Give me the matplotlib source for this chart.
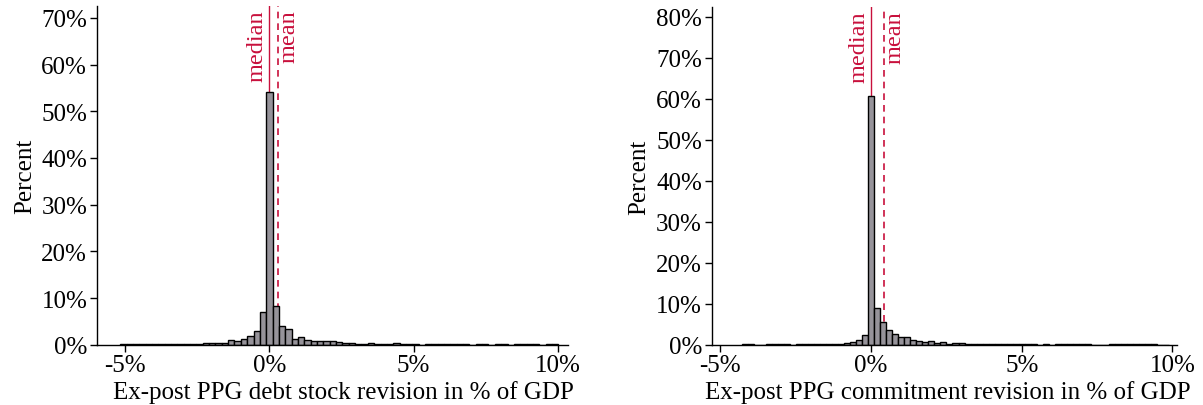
import matplotlib
matplotlib.use("Agg")
import matplotlib.pyplot as plt
import matplotlib.ticker as mticker
import numpy as np

# Left: debt stock revision, bins of 0.22 pp starting at -5.165
DEBT_START = -5.165
DEBT_WIDTH = 0.22
debt_pct = [
    0.10, 0.08, 0.10, 0.08, 0.10, 0.10, 0.10, 0.12, 0.10, 0.12,
    0.15, 0.25, 0.15, 0.30, 0.30, 0.30, 0.40, 1.00, 0.70, 1.30,
    1.90, 3.00, 6.90, 54.10, 8.30, 4.00, 3.30, 1.30, 1.60, 1.10,
    0.80, 0.80, 0.70, 0.85, 0.60, 0.35, 0.35, 0.20, 0.20, 0.35,
    0.15, 0.15, 0.20, 0.35, 0.15, 0.15, 0.12, 0.00, 0.12, 0.10,
    0.12, 0.10, 0.12, 0.10, 0.10, 0.00, 0.12, 0.10, 0.00, 0.12,
    0.10, 0.00, 0.10, 0.10, 0.10, 0.10, 0.00, 0.10, 0.10,
]
debt_median = 0.0
debt_mean = 0.31

# Right: commitment revision, bins of 0.2 pp starting at -4.3
COMM_START = -4.3
COMM_WIDTH = 0.2
comm_pct = [
    0.10, 0.08, 0.00, 0.00, 0.10, 0.10, 0.10, 0.10, 0.00, 0.12,
    0.10, 0.12, 0.10, 0.10, 0.12, 0.12, 0.18, 0.35, 0.75, 1.05,
    2.25, 60.70, 8.90, 5.60, 3.70, 2.60, 1.85, 1.85, 1.10, 0.90,
    0.65, 1.00, 0.45, 0.55, 0.25, 0.40, 0.40, 0.25, 0.20, 0.15,
    0.15, 0.20, 0.12, 0.12, 0.15, 0.12, 0.10, 0.10, 0.08, 0.00,
    0.10, 0.00, 0.10, 0.10, 0.08, 0.10, 0.10, 0.10, 0.00, 0.00,
    0.00, 0.08, 0.10, 0.10, 0.08, 0.10, 0.10, 0.10, 0.10, 0.00,
    0.00,
]
comm_median = 0.0
comm_mean = 0.42

BAR = "#96939a"
RED = "#c8103c"
FS = 18

plt.rcParams.update({
    "font.family": ["Liberation Serif", "DejaVu Serif"],
    "font.size": FS,
    "axes.spines.top": False,
    "axes.spines.right": False,
    "axes.linewidth": 1.0,
    "xtick.major.size": 5,
    "ytick.major.size": 5,
    "xtick.major.width": 1.0,
    "ytick.major.width": 1.0,
})

fig = plt.figure(figsize=(12.03, 4.06), dpi=100)
ax1 = fig.add_axes([0.0806, 0.1485, 0.3913, 0.835])
ax2 = fig.add_axes([0.5916, 0.1485, 0.3868, 0.831])


def panel(ax, pct, start, width, med, mean, xlim, ylim, yticks, xlabel, xlab_x):
    edges = start + width * np.arange(len(pct))
    ax.bar(edges, pct, width=width, align="edge", color=BAR,
           edgecolor="black", linewidth=1.0, zorder=2)
    ax.axvline(med, color=RED, linewidth=1.0, zorder=1)
    ax.axvline(mean, color=RED, linewidth=1.2, linestyle=(0, (4, 3)), zorder=1)
    top = ylim - 0.8
    ax.text(med - 0.06, top, "median", rotation=90, color=RED,
            ha="right", va="top", fontsize=FS - 0.5)
    ax.text(mean + 0.02, top, "mean", rotation=90, color=RED,
            ha="left", va="top", fontsize=FS - 0.5)
    ax.set_xlim(*xlim)
    ax.set_ylim(0, ylim)
    ax.set_xticks([-5, 0, 5, 10])
    ax.xaxis.set_major_formatter(mticker.FuncFormatter(lambda v, p: f"{v:.0f}%"))
    ax.set_yticks(yticks)
    ax.yaxis.set_major_formatter(mticker.FuncFormatter(lambda v, p: f"{v:.0f}%"))
    ax.set_ylabel("Percent", labelpad=4)
    ax.set_xlabel(xlabel, labelpad=1)
    ax.xaxis.set_label_coords(xlab_x, -0.105)
    ax.xaxis.label.set_va("top")
    ax.tick_params(pad=2)


panel(ax1, debt_pct, DEBT_START, DEBT_WIDTH, debt_median, debt_mean,
      (-5.97, 10.34), 72.6, range(0, 71, 10),
      "Ex-post PPG debt stock revision in % of GDP", 0.523)
panel(ax2, comm_pct, COMM_START, COMM_WIDTH, comm_median, comm_mean,
      (-5.29, 10.15), 82.3, range(0, 81, 10),
      "Ex-post PPG commitment revision in % of GDP", 0.508)

fig.savefig("out.png", dpi=100)
